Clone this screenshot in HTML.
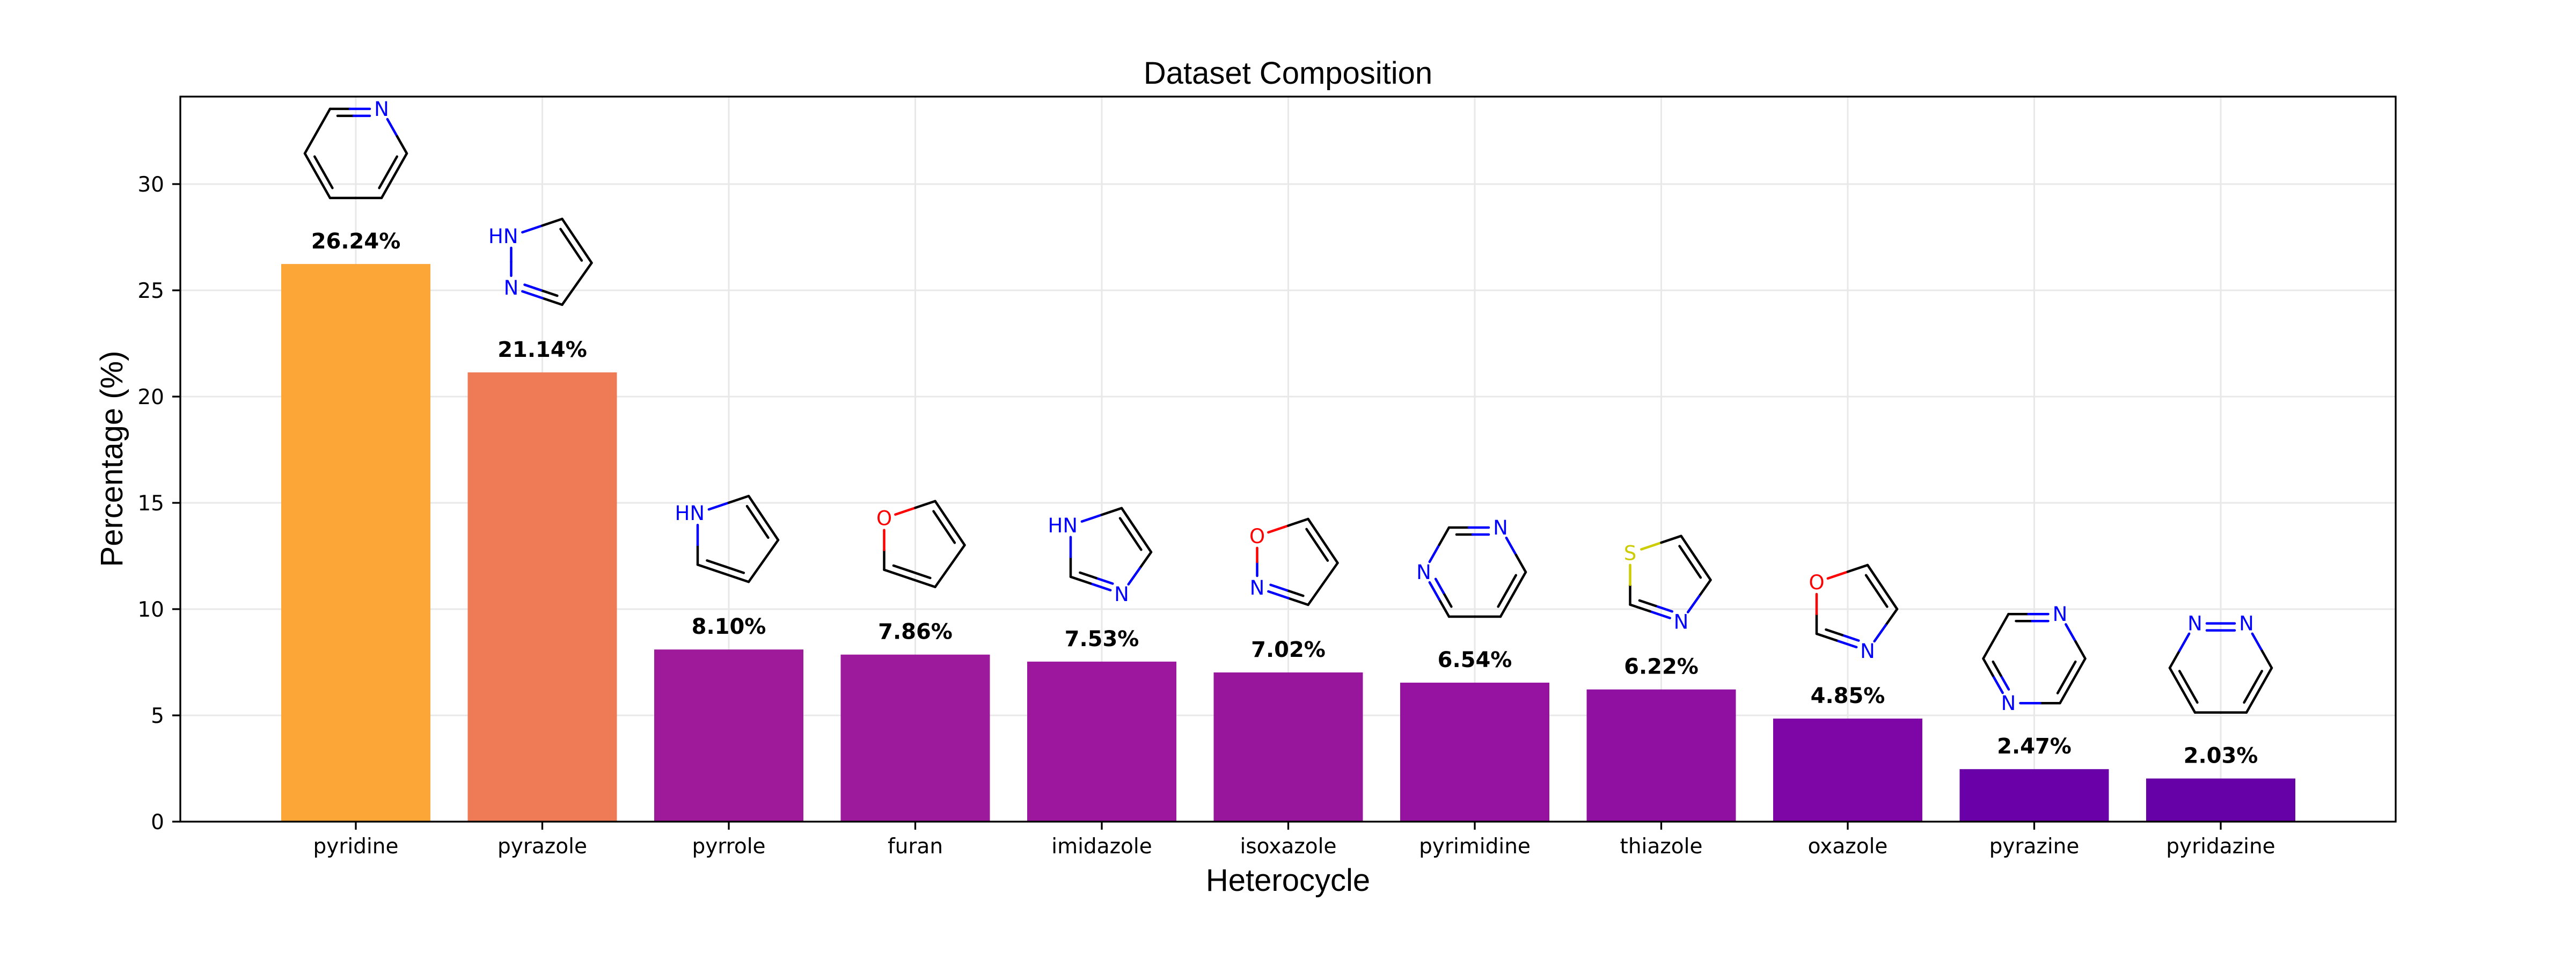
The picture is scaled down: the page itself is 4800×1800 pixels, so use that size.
<!DOCTYPE html>
<html><head><meta charset="utf-8"><style>
html,body{margin:0;padding:0;background:#fff;}
svg{display:block;}
.tick{font-family:"DejaVu Sans",sans-serif;font-size:39px;fill:#000;}
.val{font-family:"DejaVu Sans",sans-serif;font-size:40px;font-weight:bold;fill:#000;}
.lab{font-family:"Liberation Sans",sans-serif;font-size:58px;fill:#000;}
.atom{font-family:"DejaVu Sans",sans-serif;font-size:37px;}
</style></head><body>
<svg id="chart" width="4800" height="1800" viewBox="0 0 4800 1800" xmlns="http://www.w3.org/2000/svg">
<rect width="4800" height="1800" fill="#fff"/>
<text x="2400" y="156" text-anchor="middle" class="lab" style="font-size:58px">Dataset Composition</text>
<text x="2400" y="1660" text-anchor="middle" class="lab">Heterocycle</text>
<text transform="translate(228,855) rotate(-90)" text-anchor="middle" class="lab">Percentage (%)</text>
<g id="grid"></g><g id="bars"></g><g id="mols"></g><g id="axes"></g>
</svg>
<script>
const categories = ["pyridine","pyrazole","pyrrole","furan","imidazole","isoxazole","pyrimidine","thiazole","oxazole","pyrazine","pyridazine"];
const values = [26.24,21.14,8.10,7.86,7.53,7.02,6.54,6.22,4.85,2.47,2.03];
const yTicks = [0,5,10,15,20,25,30];
const barColors = ["#FBA636","#EE7B55","#9E1A9B","#9D1A9C","#9C179E","#98169C","#9513A0","#9010A2","#7F06A6","#6A00A8","#6600A7"];

const NS = "http://www.w3.org/2000/svg";
const L = 336, R = 4464, T = 180, B = 1531;
const yMax = (B - T) / 39.6;
const x0 = 663, step = 347.5, bw = 278;
function xPos(i){ return x0 + i * step; }
function yPos(v){ return B - v / yMax * (B - T); }
function mk(tag, attrs, parent){ const e = document.createElementNS(NS, tag); for (const k in attrs) e.setAttribute(k, attrs[k]); parent.appendChild(e); return e; }

const grid = document.getElementById('grid');
const bars = document.getElementById('bars');
const mols = document.getElementById('mols');
const axes = document.getElementById('axes');

yTicks.forEach(t => {
  const y = yPos(t);
  const g = mk('line', {x1:L, x2:R, y1:y, y2:y, stroke:'#e8e8e8', 'stroke-width':3}, grid);
  
  
  const tk = mk('line', {x1:L-15, x2:L, y1:y, y2:y, stroke:'#000', 'stroke-width':3.3}, axes);
  
  
  const tx = mk('text', {x:306, y:y+14, 'text-anchor':'end', class:'tick'}, axes);
  tx.textContent = t;
  
  
});

const ring5 = [[-58,-48],[37,-80],[92,2],[37,80],[-58,48]];
const ring6 = [[-48,-83],[48,-83],[95,0],[48,83],[-48,83],[-95,0]];
const molDefs = {
  pyridine:{r:6, atoms:{1:'N'}, dbl:[[0,1],[2,3],[4,5]]},
  pyrazole:{r:5, atoms:{0:'HN',4:'N'}, dbl:[[1,2],[3,4]]},
  pyrrole:{r:5, atoms:{0:'HN'}, dbl:[[1,2],[3,4]]},
  furan:{r:5, atoms:{0:'O'}, dbl:[[1,2],[3,4]]},
  imidazole:{r:5, atoms:{0:'HN',3:'N'}, dbl:[[1,2],[3,4]]},
  isoxazole:{r:5, atoms:{0:'O',4:'N'}, dbl:[[1,2],[3,4]]},
  pyrimidine:{r:6, atoms:{1:'N',5:'N'}, dbl:[[0,1],[2,3],[4,5]]},
  thiazole:{r:5, atoms:{0:'S',3:'N'}, dbl:[[1,2],[3,4]]},
  oxazole:{r:5, atoms:{0:'O',3:'N'}, dbl:[[1,2],[3,4]]},
  pyrazine:{r:6, atoms:{1:'N',4:'N'}, dbl:[[0,1],[2,3],[4,5]]},
  pyridazine:{r:6, atoms:{0:'N',1:'N'}, dbl:[[0,1],[2,3],[4,5]]}
};
const atomColor = {N:'#0000FF', HN:'#0000FF', O:'#FF0000', S:'#CCCC00'};

function drawMol(name, cx, cy){
  const d = molDefs[name];
  const g = mk('g', {}, mols);
  
  
  const pts = (d.r === 5 ? ring5 : ring6).map(p => [cx + p[0], cy + p[1]]);
  const n = pts.length;
  const isDbl = (a,b) => d.dbl.some(p => (p[0]===a&&p[1]===b)||(p[0]===b&&p[1]===a));
  function seg(a, b, ax, ay, bx, by){
    const mx = (ax+bx)/2, my = (ay+by)/2;
    const ca = d.atoms[a] ? atomColor[d.atoms[a]] : '#000';
    const cb = d.atoms[b] ? atomColor[d.atoms[b]] : '#000';
    mk('line', {x1:ax, y1:ay, x2:mx, y2:my, stroke:ca, 'stroke-width':4.5, 'stroke-linecap':'round'}, g);
    mk('line', {x1:mx, y1:my, x2:bx, y2:by, stroke:cb, 'stroke-width':4.5, 'stroke-linecap':'round'}, g);
  }
  for (let i = 0; i < n; i++){
    const j = (i+1) % n;
    let [ax, ay] = pts[i], [bx, by] = pts[j];
    const dx = bx-ax, dy = by-ay, len = Math.hypot(dx, dy), ux = dx/len, uy = dy/len;
    const sa = d.atoms[i] ? 22 : 0, sb = d.atoms[j] ? 22 : 0;
    seg(i, j, ax+ux*sa, ay+uy*sa, bx-ux*sb, by-uy*sb);
    if (isDbl(i, j)){
      let nx = -uy, ny = ux;
      const mx = (ax+bx)/2, my = (ay+by)/2;
      if ((cx-mx)*nx + (cy-my)*ny < 0){ nx = -nx; ny = -ny; }
      const off = 13, sh = 14;
      const s1 = Math.max(sh, sa), s2 = Math.max(sh, sb);
      seg(i, j, ax+ux*s1+nx*off, ay+uy*s1+ny*off, bx-ux*s2+nx*off, by-uy*s2+ny*off);
    }
  }
  for (const k in d.atoms){
    const lbl = d.atoms[k], [px, py] = pts[k];
    const t = mk('text', {x: lbl==='HN' ? px+13 : px, y: py+13, 'text-anchor': lbl==='HN' ? 'end' : 'middle', class:'atom', fill: atomColor[lbl]}, g);
    t.textContent = lbl;
  }
}

categories.forEach((c, i) => {
  const cx = xPos(i);
  const gl = mk('line', {x1:cx, x2:cx, y1:T, y2:B, stroke:'#e8e8e8', 'stroke-width':3}, grid);
  
  
  const top = yPos(values[i]);
  const r = mk('rect', {x:cx-bw/2, y:top, width:bw, height:B-top, fill:barColors[i]}, bars);
  
  
  const v = mk('text', {x:cx, y:top-29, 'text-anchor':'middle', class:'val'}, bars);
  v.textContent = values[i].toFixed(2) + '%';
  
  
  drawMol(c, cx, top - 206);
  const tk = mk('line', {x1:cx, x2:cx, y1:B, y2:B+15, stroke:'#000', 'stroke-width':3.3}, axes);
  
  
  const tl = mk('text', {x:cx, y:1590, 'text-anchor':'middle', class:'tick'}, axes);
  tl.textContent = c;
  
  
});

const frame = mk('rect', {x:L, y:T, width:R-L, height:B-T, fill:'none', stroke:'#000', 'stroke-width':3.3}, axes);


</script>
</body></html>
